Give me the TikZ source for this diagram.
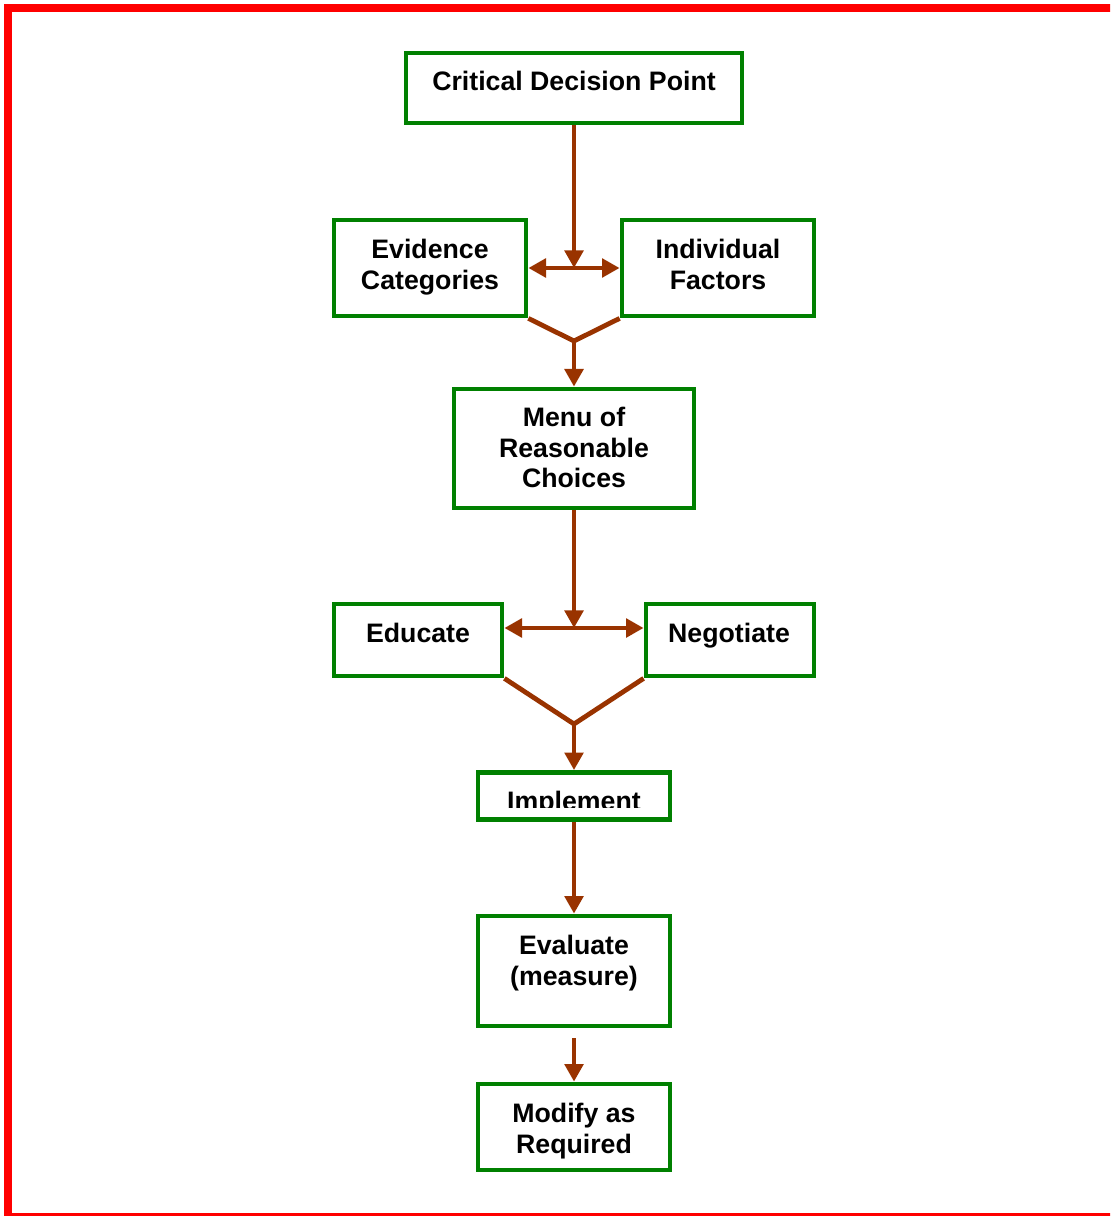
\documentclass[tikz,border=0pt]{standalone}
\usepackage{fontspec}
\setmainfont{Liberation Sans}
\usetikzlibrary{positioning,arrows.meta}
\definecolor{boxgreen}{RGB}{0,128,0}
\definecolor{flowbrown}{RGB}{153,51,0}

\begin{document}
\begin{tikzpicture}[x=0.25mm,y=-0.25mm]
		% styles
		\tikzset{
			box/.style={draw=boxgreen, line width=1.2mm, rectangle, minimum width=48mm, inner sep=0pt},
			txt/.style={align=center, font=\fontsize{19pt}{22pt}\selectfont\bfseries, inner sep=0pt},
			flow/.style={draw=flowbrown, line width=1.2mm},
			arr/.style={flow, -{Triangle[length=4.4mm,width=4.6mm]}},
			arr2/.style={flow, {Triangle[length=4.4mm,width=4.6mm]}-{Triangle[length=4.4mm,width=4.6mm]}}
		}

		% frame (runs off the right edge)
		\useasboundingbox (0,0) rectangle (1110,1216);
		\begin{scope}
			\clip (0,0) rectangle (1110,1216);
			\draw[red, line width=2mm] (8,8) rectangle (1120,1217);
		\end{scope}

		% nodes
		\node[box, minimum width=84mm, minimum height=17.5mm] (cdp) at (574,88) {};
		\node[txt] (cdpText) at (574,81) {Critical Decision Point};

		\node[box, minimum height=24mm] (evid) at (430,268) {};
		\node[txt] (evidText) at (430,267) {Evidence\\Categories};
		\node[box, minimum height=24mm] (indiv) at (718,268) {};
		\node[txt] (indivText) at (718,264) {Individual\\Factors};

		\node[box, minimum width=60mm, minimum height=29.75mm] (menu) at (574,448.5) {};
		\node[txt] (menuText) at (574,447.5) {Menu of\\Reasonable\\Choices};

		\node[box, minimum width=42mm, minimum height=18mm] (educ) at (418,640) {};
		\node[txt] (educText) at (418,633) {Educate};
		\node[box, minimum width=42mm, minimum height=18mm] (nego) at (730,640) {};
		\node[txt] (negoText) at (729,636) {Negotiate};

		\node[box, minimum height=11.75mm] (impl) at (574,796) {};
		\begin{scope}
			\clip (478,773) rectangle (670,807);
			\node[txt, anchor=base] (implText) at (574,810) {Implement};
		\end{scope}

		\node[box, minimum height=27.5mm] (eval) at (574,971) {};
		\node[txt] (evalText) at (574,963) {Evaluate\\(measure)};

		\node[box, minimum height=21.5mm] (mod) at (574,1127) {};
		\node[txt] (modText) at (574,1131) {Modify as\\Required};

		% junctions
		\coordinate (split1) at (574,268);
		\coordinate (merge1) at (574,341);
		\coordinate (split2) at (574,628);
		\coordinate (merge2) at (574,724);

		% connections
		\draw[arr] (cdp) -- (split1);
		\draw[arr2] (evid) -- (indiv);
		\draw[flow] (evid.south east) -- (merge1) -- (indiv.south west);
		\draw[arr] (merge1) -- (menu);

		\draw[arr] (menu) -- (split2);
		\draw[arr2] (educ.east |- split2) -- (nego.west |- split2);
		\draw[flow] (educ.south east) -- (merge2) -- (nego.south west);
		\draw[arr] (merge2) -- (impl);

		\draw[arr] (impl) -- (eval);
		\draw[arr] ([yshift=-2.5mm]eval.south) -- (mod);
\end{tikzpicture}
\end{document}
